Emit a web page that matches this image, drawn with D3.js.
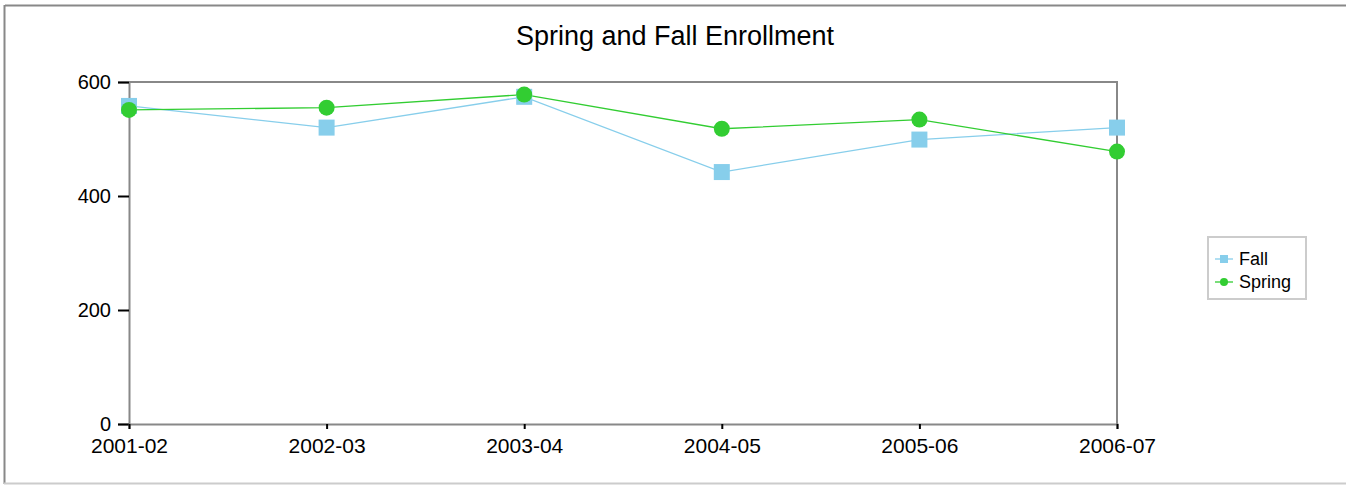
<!DOCTYPE html>
<html>
<head>
<meta charset="utf-8">
<script src="https://cdn.jsdelivr.net/npm/d3@7"></script>
<style>
  html, body { margin: 0; padding: 0; background: #fff; }
  svg { display: block; font-family: "Liberation Sans", Arial, sans-serif; }
</style>
</head>
<body>
<svg id="chart" width="1346" height="485"></svg>
<script>
const categories = ["2001-02", "2002-03", "2003-04", "2004-05", "2005-06", "2006-07"];
const fallValues = [558, 520, 574, 442, 499, 520];
const springValues = [551, 555, 578, 518, 534, 478];
const yTicks = [0, 200, 400, 600];
const seriesNames = ["Fall", "Spring"];

const W = 1346, H = 485;
const m = { left: 129, right: 1117, top: 82, bottom: 424 };
const svg = d3.select("#chart");

// outer frame
svg.append("rect").attr("x", 0).attr("y", 0).attr("width", W).attr("height", H).attr("fill", "#fff");
svg.append("line").attr("x1", 5).attr("x2", W).attr("y1", 5.5).attr("y2", 5.5).attr("stroke", "#888").attr("stroke-width", 2);
svg.append("line").attr("x1", 4.5).attr("x2", 4.5).attr("y1", 5).attr("y2", 484).attr("stroke", "#888").attr("stroke-width", 2);
svg.append("line").attr("x1", 4).attr("x2", W).attr("y1", 483.5).attr("y2", 483.5).attr("stroke", "#ccc").attr("stroke-width", 2);

const x = d3.scalePoint().domain(categories).range([m.left, m.right]);
const y = d3.scaleLinear().domain([0, 600]).range([m.bottom, m.top]);

// title
svg.append("text").attr("x", 675).attr("y", 45).attr("text-anchor", "middle")
  .attr("font-size", 27).attr("fill", "#000").text("Spring and Fall Enrollment");

// plot frame (top & right)
svg.append("path")
  .attr("d", `M${m.left},${m.top}H${m.right}V${m.bottom}`)
  .attr("fill", "none").attr("stroke", "#888").attr("stroke-width", 2);

// y axis
const yAxis = svg.append("g").attr("transform", `translate(${m.left},0)`)
  .call(d3.axisLeft(y).tickValues(yTicks).tickSize(11).tickPadding(7).tickFormat(d3.format("d")));
yAxis.select(".domain").attr("stroke", "#888").attr("stroke-width", 2);
yAxis.selectAll(".tick line").attr("stroke", "#000").attr("stroke-width", 2);
yAxis.selectAll(".tick text").attr("font-size", 20).attr("fill", "#000").attr("font-family", "Liberation Sans, Arial, sans-serif");

// x axis
const xAxis = svg.append("g").attr("transform", `translate(0,${m.bottom})`)
  .call(d3.axisBottom(x).tickSize(5).tickPadding(9));
xAxis.select(".domain").attr("stroke", "#888").attr("stroke-width", 2);
xAxis.selectAll(".tick line").attr("stroke", "#000").attr("stroke-width", 2);
xAxis.selectAll(".tick text").attr("font-size", 21).attr("fill", "#000").attr("font-family", "Liberation Sans, Arial, sans-serif");

const fallColor = "#87CEEB", springColor = "#32CD32";
const line = d3.line().x((d, i) => x(categories[i])).y(d => y(d));

svg.append("path").datum(fallValues).attr("d", line).attr("fill", "none")
  .attr("stroke", fallColor).attr("stroke-width", 1.3);
svg.append("path").datum(springValues).attr("d", line).attr("fill", "none")
  .attr("stroke", springColor).attr("stroke-width", 1.3);

const sq = 16;
svg.append("g").selectAll("rect").data(fallValues).join("rect")
  .attr("x", (d, i) => x(categories[i]) - sq / 2).attr("y", d => y(d) - sq / 2)
  .attr("width", sq).attr("height", sq).attr("fill", fallColor);
svg.append("g").selectAll("circle").data(springValues).join("circle")
  .attr("cx", (d, i) => x(categories[i])).attr("cy", d => y(d)).attr("r", 8)
  .attr("fill", springColor);

// legend
const lg = svg.append("g");
lg.append("rect").attr("x", 1208).attr("y", 237).attr("width", 98).attr("height", 62)
  .attr("fill", "#fff").attr("stroke", "#ccc").attr("stroke-width", 2);
const items = [
  { name: seriesNames[0], color: fallColor, shape: "square", y: 259 },
  { name: seriesNames[1], color: springColor, shape: "circle", y: 282 }
];
items.forEach(it => {
  lg.append("line").attr("x1", 1215).attr("x2", 1233).attr("y1", it.y).attr("y2", it.y)
    .attr("stroke", it.color).attr("stroke-width", 1.3);
  if (it.shape === "square") {
    lg.append("rect").attr("x", 1220).attr("y", it.y - 4).attr("width", 8).attr("height", 8).attr("fill", it.color);
  } else {
    lg.append("circle").attr("cx", 1224).attr("cy", it.y).attr("r", 4).attr("fill", it.color);
  }
  lg.append("text").attr("x", 1239).attr("y", it.y + 6).attr("font-size", 18).attr("fill", "#000").text(it.name);
});
</script>
</body>
</html>
